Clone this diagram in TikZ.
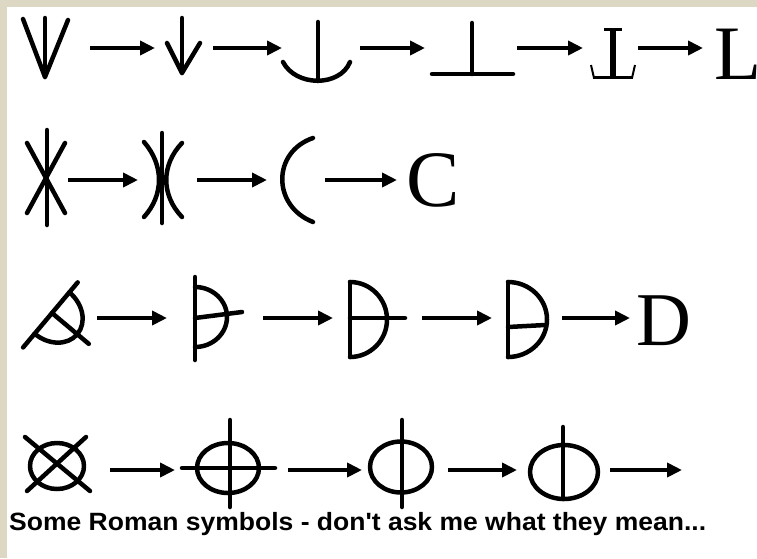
\documentclass[tikz,border=0pt]{standalone}
\usepackage{fontspec}
\usetikzlibrary{arrows.meta}
\newfontfamily\romanfont{Liberation Serif}
\newfontfamily\capfont[Ligatures=TeXOff]{Liberation Sans}
\definecolor{frame}{RGB}{221,216,195}
\begin{document}
\begin{tikzpicture}[x=1pt, y=-1pt, >={Triangle[length=15pt,width=14pt]},
	stroke/.style={line width=4.5pt, line cap=round, line join=round},
	arr/.style={line width=4pt, ->},
	letter/.style={anchor=base west, inner sep=0pt, font=\romanfont\fontsize{77}{77}\selectfont}]
	
	% --- NỀN VÀ KHUNG ---
	\useasboundingbox (0,0) rectangle (757,558);
	\fill[white] (0,0) rectangle (757,558);
	\fill[frame] (0,0) rectangle (7,558);
	\fill[frame] (0,0) rectangle (757,7);
	
	% --- HÀNG 1: L ---
	\draw[stroke] (23,19) -- (45,77) -- (68,20);
	\draw[stroke] (45,18) -- (45,77);
	
	\draw[stroke] (167,43) -- (182,73) -- (200,43);
	\draw[stroke] (182,18) -- (182,73);
	
	\draw[stroke] (283,62) .. controls (296,87) and (340,87) .. (350,62);
	\draw[stroke] (318,22) -- (318,81);
	
	\draw[stroke] (432,74) -- (513,74);
	\draw[stroke] (472,23) -- (472,74);
	
	% chữ L hai chân (nét có chân)
	\fill (610,28) rectangle (616,78);
	\fill (604,28) rectangle (622,30.5);
	\fill (593,76) rectangle (633,79);
	\draw[line width=2pt] (594,78) .. controls (593,72) .. (591,65);
	\draw[line width=2pt] (632,78) .. controls (633,72) .. (635,65);
	
	\node[letter] (letterL) at (714,79) {L};
	
	\foreach \s/\e [count=\i] in {90/155, 213/282, 360/425, 517/583, 638/703} {
		\coordinate (a1\i s) at (\s,48);
		\coordinate (a1\i e) at (\e,48);
		\draw[arr] (a1\i s) -- (a1\i e);
	}
	
	% --- HÀNG 2: C ---
	\draw[stroke] (47,130) -- (47,225);
	\draw[stroke] (27,143) -- (65,213);
	\draw[stroke] (65,143) -- (27,213);
	
	\draw[stroke] (162,133) -- (162,223);
	\draw[stroke] (144,142) .. controls (164,165) and (164,195) .. (144,217);
	\draw[stroke] (182,143) .. controls (161,165) and (161,195) .. (182,217);
	
	\draw[stroke] (313,138) .. controls (272,152) and (272,206) .. (313,222);
	
	\node[letter, font=\romanfont\fontsize{80}{80}\selectfont] (letterC) at (406,206) {C};
	
	\foreach \s/\e [count=\i] in {68/138, 197/267, 325/397} {
		\coordinate (a2\i s) at (\s,180);
		\coordinate (a2\i e) at (\e,180);
		\draw[arr] (a2\i s) -- (a2\i e);
	}
	
	% --- HÀNG 3: D ---
	\begin{scope}[shift={(52,313)}, rotate=-40]
		\draw[stroke] (0,-40) -- (0,45);
		\draw[stroke] (0,-27) arc[start angle=-90, end angle=90, x radius=33, y radius=27];
		\draw[stroke] (0,0) -- (48,0);
	\end{scope}
	
	\draw[stroke] (195,277) -- (195,360);
	\draw[stroke] (195,287) arc[start angle=-90, end angle=90, x radius=32, y radius=30];
	\draw[stroke] (195,318) -- (242,312);
	
	\draw[stroke] (350,282) -- (350,357);
	\draw[stroke] (350,282) arc[start angle=-90, end angle=90, x radius=37, y radius=37.5];
	\draw[stroke] (350,318) -- (405,318);
	
	\draw[stroke] (508,282) -- (508,357);
	\draw[stroke] (508,282) arc[start angle=-90, end angle=90, x radius=39, y radius=37.5];
	\draw[stroke] (508,327) -- (545,325);
	
	\node[letter, font=\romanfont\fontsize{76}{76}\selectfont] (letterD) at (636,345) {D};
	
	\foreach \s/\e [count=\i] in {97/167, 263/333, 422/492, 562/630} {
		\coordinate (a3\i s) at (\s,318);
		\coordinate (a3\i e) at (\e,318);
		\draw[arr] (a3\i s) -- (a3\i e);
	}
	
	% --- HÀNG 4: PHI ---
	\draw[stroke] (57,466) ellipse (27 and 23);
	\draw[stroke] (25,437) -- (90,491);
	\draw[stroke] (86,437) -- (27,491);
	
	\draw[stroke] (228,468) ellipse (31 and 25);
	\draw[stroke] (182,468) -- (275,468);
	\draw[stroke] (230,420) -- (230,507);
	
	\draw[stroke] (401,467) ellipse (31 and 25.5);
	\draw[stroke] (402,420) -- (402,507);
	
	\draw[stroke] (564,472) ellipse (34 and 27);
	\draw[stroke] (563,427) -- (563,499);
	
	\foreach \s/\e [count=\i] in {110/175, 288/362, 448/517, 610/682} {
		\coordinate (a4\i s) at (\s,470);
		\coordinate (a4\i e) at (\e,470);
		\draw[arr] (a4\i s) -- (a4\i e);
	}
	
	% chú thích
	\node[anchor=base west, inner sep=0pt, font=\capfont\bfseries\fontsize{25}{25}\selectfont] (caption) at (9,530)
		{\scalebox{1.06}[1]{Some Roman symbols - don't ask me what they mean...}};
	
\end{tikzpicture}
\end{document}
